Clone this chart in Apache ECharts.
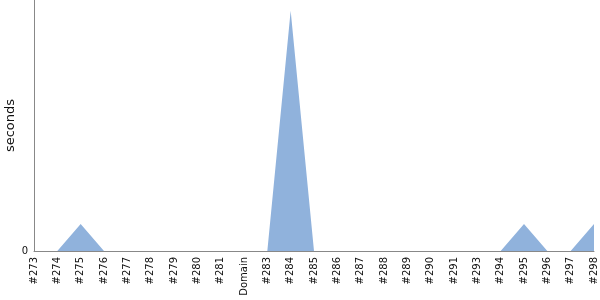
<!DOCTYPE html>
<html><head><meta charset="utf-8">
<script src="https://cdn.jsdelivr.net/npm/echarts@6/dist/echarts.min.js"></script>
<style>html,body{margin:0;padding:0;background:#fff}#c{width:600px;height:300px}</style>
</head><body><div id="c"></div>
<script>
var categories = ['#273','#274','#275','#276','#277','#278','#279','#280','#281','Domain','#283','#284','#285','#286','#287','#288','#289','#290','#291','#293','#294','#295','#296','#297','#298'];
var seconds = [0,0,1,0,0,0,0,0,0,0,0,8.9,0,0,0,0,0,0,0,0,0,1,0,0,1];
var yMax = 9.3;

var chart = echarts.init(document.getElementById('c'), null, {renderer:'canvas'});
chart.setOption({
  animation:false,
  textStyle:{fontFamily:'DejaVu Sans'},
  grid:{left:34,right:6,top:0,bottom:49,containLabel:false,outerBoundsMode:'none'},
  xAxis:{
    type:'category', data:categories, boundaryGap:false,
    axisLine:{lineStyle:{color:'#888',width:1}},
    axisTick:{show:false},
    axisLabel:{rotate:90, interval:0, fontSize:10, color:'#111', margin:6, fontFamily:'DejaVu Sans'},
    splitLine:{show:false}
  },
  yAxis:{
    type:'value', min:0, max:yMax, interval:yMax,
    name:'seconds', nameLocation:'middle', nameGap:17, nameMoveOverlap:false,
    nameTextStyle:{fontSize:13, color:'#111', fontFamily:'DejaVu Sans'},
    axisLine:{show:true, lineStyle:{color:'#888',width:1}},
    axisTick:{show:false},
    axisLabel:{fontSize:10, color:'#111', margin:6, showMaxLabel:false, fontFamily:'DejaVu Sans',
      formatter:function(v){return v===0?'0':'';}},
    splitLine:{show:false}
  },
  series:[{
    type:'line', data:seconds, symbol:'none',
    lineStyle:{width:0},
    areaStyle:{color:'#90b2dc', opacity:1}
  }]
});
</script></body></html>
